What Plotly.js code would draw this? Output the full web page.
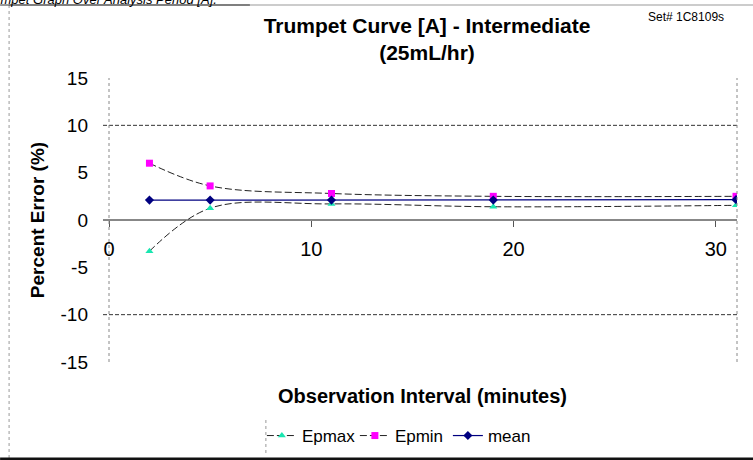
<!DOCTYPE html>
<html>
<head>
<meta charset="utf-8">
<script src="https://cdn.plot.ly/plotly-3.0.1.min.js"></script>
<style>
html,body{margin:0;padding:0;background:#fff;}
#chart{width:753px;height:460px;}
</style>
</head>
<body>
<div id="chart"></div>
<script>
// ---- data ----
const interval = [2, 5, 11, 19, 31];          // minutes
const epmax    = [-3.3, 1.25, 1.7, 1.4, 1.55];
const epmin    = [6.0, 3.6, 2.8, 2.5, 2.5];
const meanVals = [2.1, 2.1, 2.1, 2.1, 2.15];
const seriesNames = ['Epmax', 'Epmin', 'mean'];
const yTicks = [-15, -10, -5, 0, 5, 10, 15];
const xTicks = [0, 10, 20, 30];

// ---- geometry helpers (plot area in pixels) ----
const L = 109, R = 737.5, T = 78, B = 362;
const px = p => (p - L) / (R - L);
const py = p => (B - p) / (B - T);

const FONT = 'Liberation Sans, Arial, sans-serif';

const traces = [
  {
    name: seriesNames[0], x: interval, y: epmax, mode: 'lines+markers',
    line: {color: '#222', width: 1, dash: '7px,3px', shape: 'spline', smoothing: 1},
    marker: {symbol: 'triangle-up', size: 7, color: '#19E6B0'}
  },
  {
    name: seriesNames[1], x: interval, y: epmin, mode: 'lines+markers',
    line: {color: '#222', width: 1, dash: '7px,3px', shape: 'spline', smoothing: 1},
    marker: {symbol: 'square', size: 7, color: '#FF00FF'}
  },
  {
    name: seriesNames[2], x: interval, y: meanVals, mode: 'lines+markers',
    line: {color: '#000080', width: 1.2},
    marker: {symbol: 'diamond', size: 7, color: '#000080'}
  }
];

const gridStyle = {color: '#333', width: 1, dash: '4px,2px'};
const shapes = [
  // gridlines at +-10 and zero line (extend slightly left of axis, like tick marks)
  {type: 'line', xref: 'paper', yref: 'y', x0: px(103), x1: 1, y0: 10, y1: 10, line: gridStyle},
  {type: 'line', xref: 'paper', yref: 'y', x0: px(103), x1: 1, y0: -10, y1: -10, line: gridStyle},
  {type: 'line', xref: 'paper', yref: 'y', x0: px(103), x1: 1, y0: 0, y1: 0, line: {color: '#111', width: 1}},
  // vertical axis line and right border of plot area
  {type: 'line', xref: 'paper', yref: 'paper', x0: 0, x1: 0, y0: 0, y1: 1, line: {color: '#888', width: 1, dash: 'dot'}},
  {type: 'line', xref: 'paper', yref: 'paper', x0: 1, x1: 1, y0: 0, y1: 1, line: {color: '#888', width: 1, dash: 'dot'}},
  // chart frame
  {type: 'line', xref: 'paper', yref: 'paper', x0: px(9), x1: px(760), y0: py(5), y1: py(5), line: {color: '#999', width: 1}},
  {type: 'line', xref: 'paper', yref: 'paper', x0: px(9), x1: px(9), y0: py(5), y1: py(458), line: {color: '#999', width: 1, dash: 'dot'}},
  {type: 'line', xref: 'paper', yref: 'paper', x0: px(0), x1: px(760), y0: py(459), y1: py(459), line: {color: '#111', width: 3}},
  // legend left border
  {type: 'line', xref: 'paper', yref: 'paper', x0: px(266), x1: px(266), y0: py(420), y1: py(453), line: {color: '#999', width: 1, dash: 'dot'}},
  // underline of the cut-off caption above the chart
  {type: 'line', xref: 'paper', yref: 'paper', x0: px(0), x1: px(250), y0: py(5), y1: py(5), line: {color: '#333', width: 1}}
];

const layout = {
  width: 753, height: 460,
  margin: {l: L, r: 753 - R, t: T, b: 460 - B, autoexpand: false},
  paper_bgcolor: '#fff', plot_bgcolor: '#fff',
  font: {family: FONT, color: '#000'},
  title: {
    text: '<b>Trumpet Curve [A] - Intermediate</b><br><b>(25mL/hr)</b>',
    font: {family: FONT, size: 21, color: '#000'},
    x: 427 / 753, xref: 'container', xanchor: 'center',
    y: 1 - 33 / 460, yref: 'container', yanchor: 'middle'
  },
  xaxis: {
    range: [0, 31.05], tickvals: xTicks, ticktext: xTicks.map(String),
    anchor: 'free', position: 0.5,
    ticks: 'outside', ticklen: 6, tickcolor: '#555', tickwidth: 1,
    ticklabelstandoff: 5,
    showgrid: false, zeroline: false, showline: false,
    tickfont: {family: FONT, size: 20, color: '#000'}
  },
  yaxis: {
    range: [-15, 15], tickvals: yTicks, ticktext: yTicks.map(String),
    ticks: '', showgrid: false, zeroline: false, showline: false,
    ticklabelstandoff: 20,
    tickfont: {family: FONT, size: 19, color: '#000'},
    title: {text: '<b>Percent Error (%)</b>', font: {family: FONT, size: 19, color: '#000'}, standoff: 10}
  },
  showlegend: true,
  legend: {
    orientation: 'h', x: px(262), xanchor: 'left', y: py(436), yanchor: 'middle',
    font: {family: FONT, size: 17, color: '#000'},
    bgcolor: 'rgba(0,0,0,0)', entrywidth: 48, entrywidthmode: 'pixels', tracegroupgap: 0
  },
  shapes: shapes,
  annotations: [
    {text: '<b>Observation Interval (minutes)</b>', xref: 'paper', yref: 'paper',
     x: px(423), y: py(396), xanchor: 'center', yanchor: 'middle', showarrow: false,
     font: {family: FONT, size: 20, color: '#000'}},
    {text: 'Set# 1C8109s', xref: 'paper', yref: 'paper', x: px(686), y: py(17),
     xanchor: 'center', yanchor: 'middle', showarrow: false,
     font: {family: FONT, size: 12, color: '#000'}},
    {text: '<i>Trumpet Graph Over Analysis Period [A].</i>', xref: 'paper', yref: 'paper',
     x: px(-20), y: py(9), xanchor: 'left', yanchor: 'bottom', showarrow: false,
     font: {family: FONT, size: 13, color: '#000'}}
  ]
};

Plotly.newPlot('chart', traces, layout, {displayModeBar: false, staticPlot: true});
</script>
</body>
</html>
